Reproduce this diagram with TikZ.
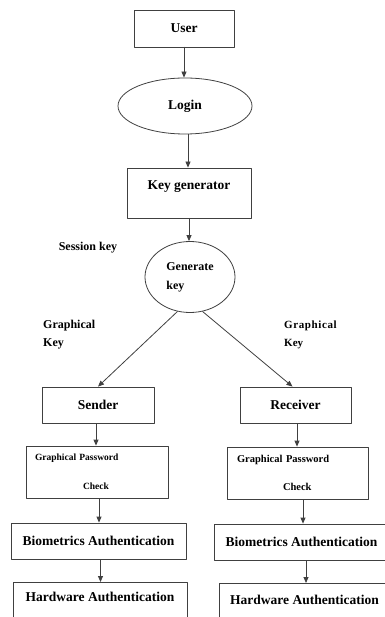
\documentclass[tikz,border=0pt]{standalone}
\usepackage{fontspec}
\setmainfont{Liberation Serif}
\usetikzlibrary{positioning, shapes.geometric, arrows.meta}

\tikzset{
  box/.style={draw=black!75, line width=0.8pt, rectangle, align=center,
    font=\fontsize{13.5}{16}\selectfont\bfseries},
  oval/.style={draw=black!75, line width=0.8pt, ellipse, inner sep=0pt,
    font=\fontsize{13.5}{16}\selectfont\bfseries},
  flow/.style={draw=black!75, line width=0.8pt, -{Triangle[length=6pt,width=5pt]}},
  note/.style={font=\fontsize{12}{18}\selectfont\bfseries, align=left, inner sep=0pt}
}

\begin{document}
\begin{tikzpicture}[x=1pt, y=-1pt, line cap=round, line join=round]
        % page frame
        \useasboundingbox (0,0) rectangle (384,617);

        % top chain
        \node[box, minimum width=100pt, minimum height=37pt] (user) at (184,28.5) {User};
        \node[oval, minimum width=134pt, minimum height=56pt] (login) at (185,106) {Login};
        \node[box, minimum width=124pt, inner ysep=9pt, text height=13pt, text depth=19pt]
             (keygen) at (189,193) {Key generator};
        \node[oval, minimum width=90pt, minimum height=71pt, align=left,
              font=\fontsize{12}{19}\selectfont\bfseries] (genkey) at (190,277) {Generate\\key};

        % side notes
        \node[note] (session) at (88,248) {Session key};
        \node[note, anchor=west] (gkeyL) at (43,335) {Graphical\\Key};
        \node[note, anchor=west, font=\fontsize{11}{18}\selectfont\bfseries] (gkeyR) at (284,335)
             {G\kern.6pt r\kern.6pt a\kern.6pt p\kern.6pt h\kern.6pt i\kern.6pt c\kern.6pt a\kern.6pt l\\Key};

        % sender side
        \node[box, minimum width=112pt, minimum height=36pt] (sender) at (98,405) {Sender};
        \node[box, text width=124pt, align=left, minimum height=52pt, inner xsep=9pt,
              font=\fontsize{9.5}{11.4}\selectfont\bfseries]
             (gpcL) at (97,472) {Graphical Password\\[17.6pt]\hspace*{48pt}Check};
        \node[box, minimum width=175pt, minimum height=36pt] (bioL) at (98.5,541)
             {Biometrics Authentication};
        \node[box, anchor=north, minimum width=174pt, inner ysep=6pt, text height=13pt,
              text depth=30pt] (hwL) at (100,582) {Hardware Authentication};

        % receiver side
        \node[box, minimum width=111pt, minimum height=36pt] (receiver) at (295.5,405) {Receiver};
        \node[box, text width=121pt, align=left, minimum height=52pt, inner xsep=10pt,
              font=\fontsize{10.5}{12.6}\selectfont\bfseries]
             (gpcR) at (297.5,473) {Graphical Password\\[15.4pt]\hspace*{46pt}Check};
        \node[box, minimum width=175pt, minimum height=36pt] (bioR) at (301.5,542)
             {Biometrics Authentication};
        \node[box, anchor=north, minimum width=171pt, inner ysep=6pt, text height=15pt,
              text depth=30pt] (hwR) at (304.5,583) {Hardware Authentication};

        % connectors
        \draw[flow] (user.south) -- (user.south |- login.north);
        \draw[flow] ([xshift=3pt]login.south) -- ([xshift=3pt]login.south |- keygen.north);
        \draw[flow] (keygen.south) -- (keygen.south |- genkey.north);
        \draw[flow] (genkey.250) -- (sender.north);
        \draw[flow] (genkey.290) -- ([xshift=-3pt]receiver.north);

        \draw[flow] ([xshift=-2pt]sender.south) -- ([xshift=-2pt]sender.south |- gpcL.north);
        \draw[flow] ([xshift=2pt]gpcL.south) -- ([xshift=2pt]gpcL.south |- bioL.north);
        \draw[flow] ([xshift=2pt]bioL.south) -- ([xshift=2pt]bioL.south |- hwL.north);

        \draw[flow] ([xshift=1.5pt]receiver.south) -- ([xshift=1.5pt]receiver.south |- gpcR.north);
        \draw[flow] ([xshift=5.5pt]gpcR.south) -- ([xshift=5.5pt]gpcR.south |- bioR.north);
        \draw[flow] ([xshift=4.5pt]bioR.south) -- ([xshift=4.5pt]bioR.south |- hwR.north);
    \end{tikzpicture}
\end{document}
